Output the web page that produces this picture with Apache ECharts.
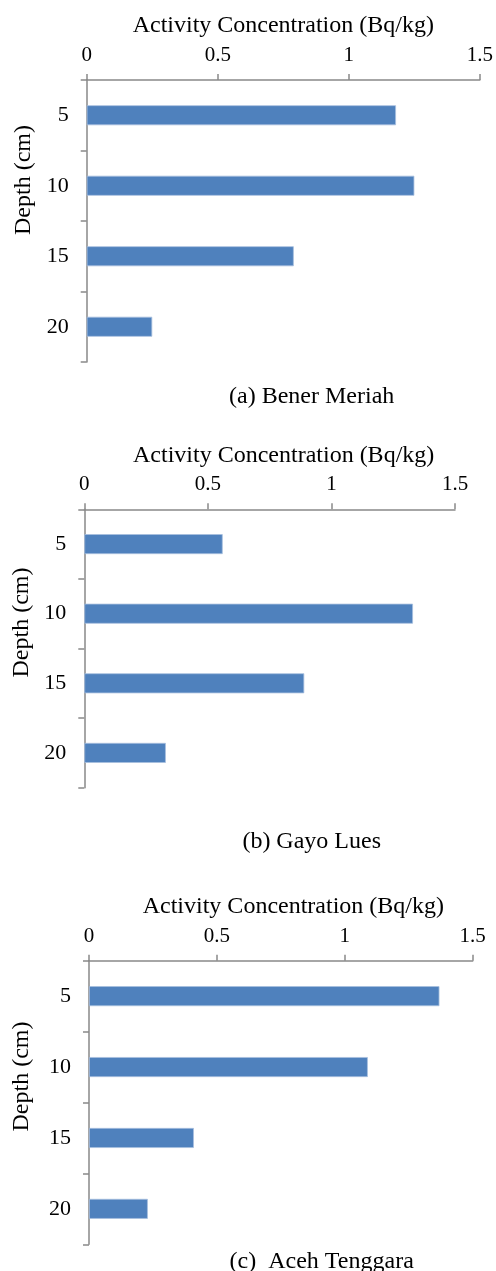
<!DOCTYPE html>
<html>
<head>
<meta charset="utf-8">
<script src="https://cdn.jsdelivr.net/npm/echarts@6/dist/echarts.min.js"></script>
<style>
  html, body { margin: 0; padding: 0; background: #fff; }
  #chart { width: 496px; height: 1271px; }
</style>
</head>
<body>
<div id="chart"></div>
<script>
// depth categories (cm) and activity values (Bq/kg) per site
var depths = ['5', '10', '15', '20'];
var benerMeriah = [1.18, 1.25, 0.79, 0.25];
var gayoLues = [0.56, 1.33, 0.89, 0.33];
var acehTenggara = [1.37, 1.09, 0.41, 0.23];
var xMin = 0, xMax = 1.5, xStep = 0.5;
var captions = ['(a) Bener Meriah', '(b) Gayo Lues', '(c)  Aceh Tenggara'];
var xName = 'Activity Concentration (Bq/kg)';
var yName = 'Depth (cm)';

var FONT = '"Liberation Serif", "Times New Roman", serif';
var AXIS = '#898989';
var BAR = '#4f81bd';

// per-panel layout (px)
var panels = [
  { data: benerMeriah, left: 86.7, right: 15, top: 80, height: 282, namePad: 0, yPad: 82, yGap: 51, cap: [311.7, 397] },
  { data: gayoLues, left: 84.3, right: 41, top: 509.3, height: 278.4, namePad: 28, yPad: 52, yGap: 50, cap: [311.7, 841.5] },
  { data: acehTenggara, left: 89, right: 23.3, top: 960.7, height: 283.6, namePad: 25, yPad: 52, yGap: 55, cap: [321.7, 1261.5] }
];

var grids = [], xAxes = [], yAxes = [], series = [], texts = [];

panels.forEach(function (p, i) {
  grids.push({ left: p.left, right: p.right, top: p.top, height: p.height, containLabel: false });
  xAxes.push({
    gridIndex: i,
    type: 'value',
    position: 'top',
    min: xMin, max: xMax, interval: xStep,
    name: xName,
    nameLocation: 'middle',
    nameGap: 42,
    nameTextStyle: { fontFamily: FONT, fontSize: 24, color: '#000', padding: [0, 0, 0, p.namePad] },
    axisLine: { show: true, lineStyle: { color: AXIS, width: 1.5 } },
    axisTick: { show: true, inside: false, length: 6, lineStyle: { color: AXIS, width: 1.5 } },
    axisLabel: { fontFamily: FONT, fontSize: 21, color: '#000', margin: 14 },
    splitLine: { show: false }
  });
  yAxes.push({
    gridIndex: i,
    type: 'category',
    inverse: true,
    data: depths,
    name: yName,
    nameLocation: 'middle',
    nameRotate: 90,
    nameGap: p.yGap,
    nameTextStyle: { fontFamily: FONT, fontSize: 24, color: '#000', padding: [0, 0, 0, p.yPad] },
    axisLine: { show: true, lineStyle: { color: AXIS, width: 1.5 } },
    axisTick: { show: true, length: 6, lineStyle: { color: AXIS, width: 1.5 } },
    axisLabel: { fontFamily: FONT, fontSize: 22, color: '#000', margin: 18 },
    splitLine: { show: false }
  });
  series.push({
    type: 'bar',
    xAxisIndex: i,
    yAxisIndex: i,
    data: p.data,
    barWidth: 20,
    itemStyle: { color: BAR, borderColor: '#a7bfde', borderWidth: 0.8 },
    silent: true
  });
  texts.push({
    type: 'text',
    x: p.cap[0],
    y: p.cap[1],
    style: {
      text: captions[i],
      align: 'center',
      verticalAlign: 'middle',
      fontFamily: FONT,
      fontSize: 24,
      fill: '#000'
    }
  });
});

var chart = echarts.init(document.getElementById('chart'));
chart.setOption({
  animation: false,
  backgroundColor: '#fff',
  grid: grids,
  xAxis: xAxes,
  yAxis: yAxes,
  series: series,
  graphic: texts
});
</script>
</body>
</html>
